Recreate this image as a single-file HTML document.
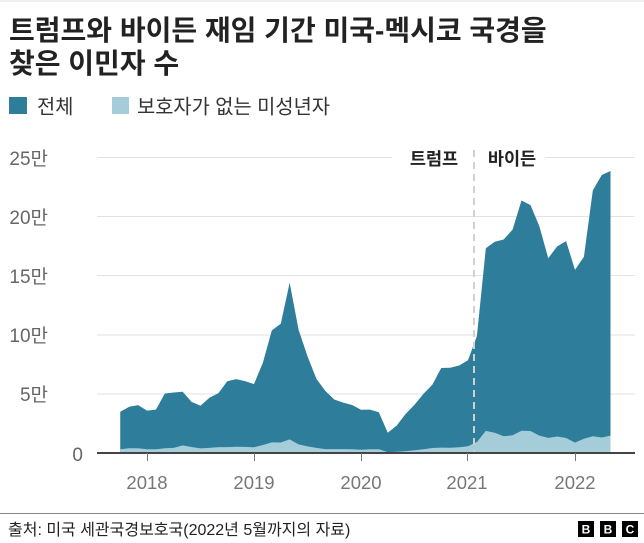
<!DOCTYPE html>
<html><head><meta charset="utf-8"><style>
html,body{margin:0;padding:0;background:#fff;}
svg{display:block;}
text{font-family:"Liberation Sans","Noto Sans CJK KR",sans-serif;}
</style></head><body>
<svg width="644" height="543" viewBox="0 0 644 543" xmlns="http://www.w3.org/2000/svg">
<rect x="0" y="0" width="644" height="543" fill="#fff"/>
<rect x="0" y="0" width="644" height="2" fill="#f0f0f0"/>
<!-- title -->
<text x="9" y="40" font-size="28" font-weight="bold" fill="#222">트럼프와 바이든 재임 기간 미국-멕시코 국경을</text>
<text x="9" y="73" font-size="28" font-weight="bold" fill="#222">찾은 이민자 수</text>
<!-- legend -->
<rect x="9" y="97" width="18" height="17" fill="#2e7d9b"/>
<text x="37" y="113.5" font-size="19.8" fill="#333">전체</text>
<rect x="112" y="97" width="17" height="17" fill="#a5cdd9"/>
<text x="137" y="113.5" font-size="19.8" fill="#333">보호자가 없는 미성년자</text>
<!-- gridlines -->
<g stroke="#e2e2e2" stroke-width="1">
<line x1="97" y1="157.5" x2="392" y2="157.5"/>
<line x1="545" y1="157.5" x2="635" y2="157.5"/>
<line x1="97" y1="216.5" x2="635" y2="216.5"/>
<line x1="97" y1="275.5" x2="635" y2="275.5"/>
<line x1="97" y1="335" x2="635" y2="335"/>
<line x1="97" y1="394" x2="635" y2="394"/>
</g>
<!-- y labels -->
<g font-size="19" fill="#666">
<text x="48" y="165" text-anchor="end">25만</text>
<text x="48" y="224" text-anchor="end">20만</text>
<text x="48" y="283" text-anchor="end">15만</text>
<text x="48" y="342" text-anchor="end">10만</text>
<text x="48" y="401" text-anchor="end">5만</text>
<text x="83" y="461" text-anchor="end">0</text>
</g>
<!-- total area -->
<path fill="#2e7d9b" d="M120.25,453 L120.25,411.7 L129.17,406.8 L138.08,405.1 L147,410.6 L155.92,409.6 L164.83,393.5 L173.75,392.5 L182.67,391.7 L191.58,401.9 L200.5,405.7 L209.42,397.8 L218.33,393.2 L227.25,381.3 L236.17,379.1 L245.08,381.1 L254,384.1 L262.92,362.6 L271.83,330.4 L280.75,323.7 L289.67,282.7 L298.58,329.7 L307.5,356.3 L316.42,378.9 L325.33,390.9 L334.25,399.5 L343.17,402.6 L352.08,405 L361,409.7 L369.92,409.6 L378.83,412.2 L387.75,432.8 L396.67,425.6 L405.58,414 L414.5,404.7 L423.42,393.9 L432.33,384.8 L441.25,368 L450.17,367.8 L459.08,365.5 L468,360.3 L476.92,336 L485.83,248.2 L494.75,241.7 L503.67,239.5 L512.58,229.6 L521.5,200.5 L530.42,205 L539.33,226.1 L548.25,258.2 L557.17,246.4 L566.08,241.1 L575,269.9 L583.92,256.8 L592.83,190.4 L601.75,175 L610.5,171 L610.5,453 Z"/>
<!-- UAC area -->
<path fill="#a5cdd9" d="M120.25,453 L120.25,449.2 L129.17,448.3 L138.08,448.2 L147,449.2 L155.92,449.2 L164.83,448.2 L173.75,447.9 L182.67,445.4 L191.58,447 L200.5,448.4 L209.42,447.9 L218.33,447.1 L227.25,447.1 L236.17,446.7 L245.08,446.9 L254,447.2 L262.92,445 L271.83,442.4 L280.75,442.5 L289.67,439.4 L298.58,444.4 L307.5,446.4 L316.42,447.9 L325.33,449.1 L334.25,449.1 L343.17,449.1 L352.08,449.3 L361,449.8 L369.92,449.3 L378.83,449.2 L387.75,452.2 L396.67,451.8 L405.58,451.1 L414.5,450.2 L423.42,449.3 L432.33,448 L441.25,447.6 L450.17,447.7 L459.08,447.3 L468,446.3 L476.92,442 L485.83,430.9 L494.75,432.8 L503.67,436.3 L512.58,435.3 L521.5,430.7 L530.42,431 L539.33,435.6 L548.25,437.9 L557.17,436.5 L566.08,438 L575,442.6 L583.92,438.8 L592.83,436.2 L601.75,437.5 L610.5,435.6 L610.5,453 Z"/>
<!-- dashed divider -->
<line x1="474" y1="150" x2="474" y2="452" stroke="#d0d0d0" stroke-width="2" stroke-dasharray="7,5"/>
<text x="434" y="165" font-size="17.5" font-weight="bold" fill="#222" text-anchor="middle">트럼프</text>
<text x="512" y="165" font-size="17.5" font-weight="bold" fill="#222" text-anchor="middle">바이든</text>
<!-- axis -->
<line x1="97" y1="453" x2="635" y2="453" stroke="#444" stroke-width="2"/>
<g stroke="#777" stroke-width="1">
<line x1="147.5" y1="453" x2="147.5" y2="461"/>
<line x1="254.5" y1="453" x2="254.5" y2="461"/>
<line x1="361.5" y1="453" x2="361.5" y2="461"/>
<line x1="467.5" y1="453" x2="467.5" y2="461"/>
<line x1="575.5" y1="453" x2="575.5" y2="461"/>
</g>
<g font-size="18.5" fill="#777" text-anchor="middle">
<text x="147" y="489">2018</text>
<text x="254" y="489">2019</text>
<text x="361" y="489">2020</text>
<text x="467" y="489">2021</text>
<text x="575" y="489">2022</text>
</g>
<!-- footer -->
<line x1="0" y1="513.5" x2="644" y2="513.5" stroke="#8a8a8a" stroke-width="1"/>
<text x="8" y="535" font-size="16" fill="#222">출처: 미국 세관국경보호국(2022년 5월까지의 자료)</text>
<g>
<rect x="578" y="521" width="16" height="16" fill="#000"/>
<rect x="600" y="521" width="16" height="16" fill="#000"/>
<rect x="622" y="521" width="16" height="16" fill="#000"/>
<g font-size="12" font-weight="bold" fill="#fff" text-anchor="middle">
<text x="586" y="533.5">B</text>
<text x="608" y="533.5">B</text>
<text x="630" y="533.5">C</text>
</g>
</g>
</svg>
</body></html>
